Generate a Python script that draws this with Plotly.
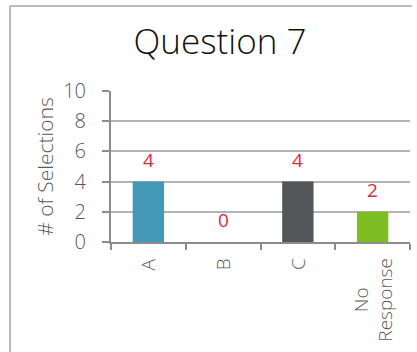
import plotly.graph_objects as go

categories = ["A", "B", "C", "No<br>Response"]
values = [4, 0, 4, 2]
colors = ["#4299b8", "#ffffff", "#53575a", "#7dbf22"]
y_ticks = [0, 2, 4, 6, 8, 10]

W, H = 417, 352
L, R, T, B = 111, 7, 91, 110
pw, ph = W - L - R, H - T - B

FONT = "Open Sans"

fig = go.Figure()
fig.add_trace(go.Bar(
    x=categories, y=values, marker=dict(color=colors, line=dict(width=0)),
    width=0.42, hoverinfo="skip",
))

for c, v in zip(categories, values):
    fig.add_annotation(x=c, y=v, text=str(v), showarrow=False, yshift=22,
                       font=dict(family=FONT, size=19, color="#d42a45"))

# category labels, rotated, centred lines
for c in categories:
    fig.add_annotation(x=c, y=0, yref="y", text=c, showarrow=False, textangle=-90,
                       yanchor="top", yshift=-14, align="center",
                       font=dict(family=FONT, size=19, color="#595959", weight=300))

fig.update_layout(
    width=W, height=H,
    margin=dict(l=L, r=R, t=T, b=B),
    paper_bgcolor="white", plot_bgcolor="white",
    showlegend=False,
    title=dict(text="Question 7", x=220 / W, xref="container", xanchor="center",
               y=1 - 42 / H, yanchor="middle",
               font=dict(family=FONT, size=35, color="#111111", weight=300)),
    font=dict(family=FONT, color="#595959"),
    xaxis=dict(
        type="category", showgrid=False, showline=True, linecolor="#8c8c8c", linewidth=2,
        ticks="outside", ticklen=6, tickcolor="#8c8c8c", tickwidth=1.5, tickson="boundaries",
        showticklabels=False, range=[-0.5, 3.5],
    ),
    yaxis=dict(
        range=[0, 10], tickvals=y_ticks, showgrid=True, gridcolor="#b3b3b3", gridwidth=1.5,
        showline=True, linecolor="#8c8c8c", linewidth=2,
        ticks="outside", ticklen=7, tickcolor="#8c8c8c", tickwidth=1.5,
        ticklabelstandoff=12, zeroline=False,
        tickfont=dict(family=FONT, size=20, color="#595959", weight=300),
        title=dict(text="# of Selections", standoff=4,
                   font=dict(family=FONT, size=21, color="#595959", weight=300)),
    ),
)

# outer chart border (top and left edges visible)
x0 = (10 - L) / pw
y1 = (H - B - 6) / ph
fig.add_shape(type="line", xref="paper", yref="paper", x0=x0, x1=(412 - L) / pw, y0=y1, y1=y1,
              line=dict(color="#a6a6a6", width=1.5))
fig.add_shape(type="line", xref="paper", yref="paper", x0=x0, x1=x0, y0=y1, y1=-(B + 20) / ph,
              line=dict(color="#a6a6a6", width=1.5))

fig.write_html("out.html")
